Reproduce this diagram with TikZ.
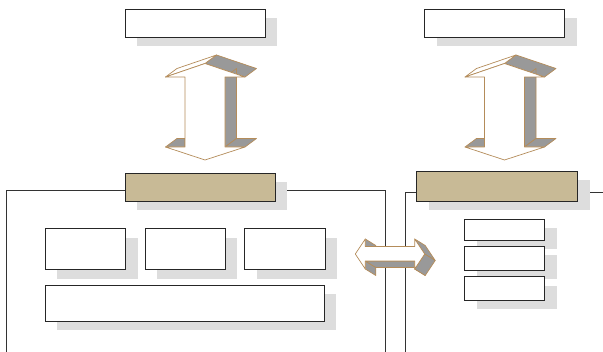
\documentclass[tikz,border=0pt]{standalone}
\usetikzlibrary{shadows,backgrounds}
\definecolor{boxtan}{RGB}{200,186,150}
\definecolor{edgebrown}{RGB}{180,140,90}
\definecolor{facegray}{RGB}{153,153,153}
\definecolor{shadegray}{RGB}{221,221,221}
\begin{document}
\begin{tikzpicture}[x=1pt,y=-1pt,
    box/.style={draw=black!85,fill=white,line width=.9pt,inner sep=0pt,
      drop shadow={shadow xshift=12pt,shadow yshift=-9pt,fill=shadegray,opacity=1}},
    hub/.style={box,fill=boxtan},
    wire/.style={draw=black!80,line width=.8pt},
    face/.style={fill=facegray,draw=edgebrown,line width=.7pt,line join=round},
    lit/.style={fill=white,draw=edgebrown,line width=.7pt,line join=round}]
  \useasboundingbox (0,0) rectangle (603,352);
  \node [box, minimum width=140pt, minimum height=28pt] (topL) at (195,23) {};
  \node [box, minimum width=140pt, minimum height=28pt] (topR) at (494.5,23.5) {};
  \node [hub, minimum width=150pt, minimum height=28pt] (hubL) at (200,187.5) {};
  \node [hub, minimum width=161pt, minimum height=30pt] (hubR) at (497,186) {};
  \foreach \x/\n in {85.3/1,185.2/2,284.8/3}
    \node [box, minimum width=80.5pt, minimum height=41pt] (subL\n) at (\x,249.3) {};
  \node [box, minimum width=279pt, minimum height=36pt] (wideL) at (184.7,303.2) {};
  \foreach \y/\h/\n in {229.5/21/1,258.2/23.7/2,288.5/23.6/3}
    \node [box, minimum width=80pt, minimum height=\h pt] (subR\n) at (504.7,\y) {};
  \coordinate (endL) at (6,352);
  \coordinate (endM) at (385,352);
  \coordinate (endN) at (405,352);
  \coordinate (endR) at (603,192);
  \begin{scope}[on background layer]
    \draw [wire] ([yshift=-2.5pt]hubL.west) -| (endL);
    \draw [wire] ([yshift=-2.5pt]hubL.east) -| (endM);
    \draw [wire] ([yshift=-6pt]hubR.west) -| (endN);
    \draw [wire] ([yshift=-6pt]hubR.east) -- (endR);
  \end{scope}
  \foreach \dx in {0,299.5} {
    \begin{scope}[xshift=\dx pt]
      \filldraw [face] (205,63.5) -- (216.5,55) -- (256.5,68.5) -- (245,77) -- cycle;
      \filldraw [face] (225,77) -- (236.5,68.5) -- (236.5,138.5) -- (225,147) -- cycle;
      \filldraw [face] (225,147) -- (236.5,138.5) -- (256.5,138.5) -- (245,147) -- cycle;
      \filldraw [face] (165.5,147) -- (177,138.5) -- (185,138.5) -- (185,147) -- cycle;
      \filldraw [lit] (165.5,77) -- (177,68.5) -- (216.5,55) -- (205,63.5) -- cycle;
      \filldraw [lit] (205,63.5) -- (245,77) -- (225,77) -- (225,147) -- (245,147) -- (205,160)
        -- (165.5,147) -- (185,147) -- (185,77) -- (165.5,77) -- cycle;
    \end{scope}
  }
  \filldraw [face] (365.3,239) -- (375.8,245.5) -- (375.8,253) -- (365.3,246.5) -- cycle;
  \filldraw [face] (365.3,261) -- (375.8,267.5) -- (375.8,275.5) -- (365.3,269) -- cycle;
  \filldraw [face] (365.3,261) -- (414.7,261) -- (425.2,267.5) -- (375.8,267.5) -- cycle;
  \filldraw [face] (414.7,269) -- (414.7,261) -- (425.2,267.5) -- (425.2,275.5) -- cycle;
  \filldraw [face] (414.7,239) -- (424.7,254) -- (435.2,260.5) -- (425.2,245.5) -- cycle;
  \filldraw [face] (424.7,254) -- (414.7,269) -- (425.2,275.5) -- (435.2,260.5) -- cycle;
  \filldraw [lit] (355.3,254) -- (365.3,239) -- (365.3,246.5) -- (414.7,246.5) -- (414.7,239)
    -- (424.7,254) -- (414.7,269) -- (414.7,261) -- (365.3,261) -- (365.3,269) -- cycle;
\end{tikzpicture}
\end{document}
